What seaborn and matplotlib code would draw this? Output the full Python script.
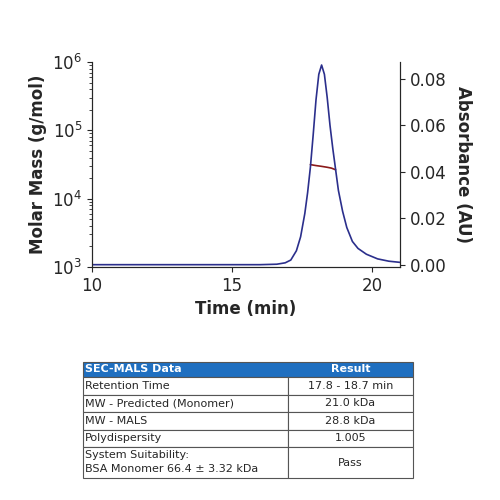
import matplotlib
matplotlib.use("Agg")
import matplotlib.pyplot as plt
import seaborn as sns
import pandas as pd
from matplotlib.patches import Rectangle

sns.set_style("ticks")
plt.rcParams['font.family'] = ['DejaVu Sans']

time_min = [10, 16.0, 16.6, 16.9, 17.1, 17.3, 17.45, 17.6, 17.7, 17.8, 17.9, 18.0, 18.1, 18.2, 18.3,
            18.4, 18.5, 18.6, 18.7, 18.8, 18.95, 19.1, 19.3, 19.5, 19.8, 20.2, 20.6, 21.0]
absorb = [0.0, 0.0, 0.0002, 0.0008, 0.002, 0.006, 0.012, 0.022, 0.031, 0.042, 0.056, 0.071, 0.082, 0.086, 0.082,
          0.072, 0.060, 0.050, 0.041, 0.032, 0.023, 0.016, 0.010, 0.007, 0.0045, 0.0025, 0.0015, 0.001]
mm_time = [17.8, 18.0, 18.2, 18.4, 18.55, 18.7]
mm_val = [3.15e4, 3.05e4, 2.97e4, 2.88e4, 2.8e4, 2.65e4]

abs_df = pd.DataFrame({"t": time_min, "a": absorb})
mm_df = pd.DataFrame({"t": mm_time, "m": mm_val})

fig = plt.figure(figsize=(5, 5), dpi=100)
ax = fig.add_axes([0.184, 0.466, 0.616, 0.41])
ax.set_yscale("log")
ax.set_ylim(1e3, 1e6)
ax.set_xlim(10, 21)
ax.set_xticks([10, 15, 20])
ax2 = ax.twinx()
sns.lineplot(data=abs_df, x="t", y="a", ax=ax2, color="#2b2f8c", lw=1.2)
sns.lineplot(data=mm_df, x="t", y="m", ax=ax, color="#8b1a1a", lw=1.2)
ax2.set_ylim(-0.001, 0.0873)
ax2.set_yticks([0, 0.02, 0.04, 0.06, 0.08])
ax2.set_yticklabels(["0.00", "0.02", "0.04", "0.06", "0.08"])
ax.set_xlabel("Time (min)", fontsize=12, fontweight="bold")
ax.set_ylabel("Molar Mass (g/mol)", fontsize=12, fontweight="bold")
ax2.set_ylabel("Absorbance (AU)", fontsize=12, fontweight="bold", rotation=270, labelpad=18)
ax.tick_params(labelsize=12)
ax2.tick_params(labelsize=12)
for a in (ax, ax2):
    a.spines["top"].set_visible(False)

# table
tax = fig.add_axes([0, 0, 1, 1], zorder=-1)
tax.set_xlim(0, 500); tax.set_ylim(500, 0); tax.axis("off")
rows = [("Retention Time", "17.8 - 18.7 min"),
        ("MW - Predicted (Monomer)", "21.0 kDa"),
        ("MW - MALS", "28.8 kDa"),
        ("Polydispersity", "1.005"),
        ("System Suitability:\nBSA Monomer 66.4 \u00b1 3.32 kDa", "Pass")]
x0, xm, x1 = 83, 288, 413
y = 362
tax.add_patch(Rectangle((x0, y), x1 - x0, 15, facecolor="#1f6fc0", edgecolor="#555555", lw=0.8))
tax.text(x0 + 2, y + 7.5, "SEC-MALS Data", color="white", fontweight="bold", fontsize=8, va="center")
tax.text((xm + x1) / 2, y + 7.5, "Result", color="white", fontweight="bold", fontsize=8, va="center", ha="center")
y += 15
for lab, val in rows:
    h = 31 if "\n" in lab else 17.5
    tax.add_patch(Rectangle((x0, y), xm - x0, h, facecolor="white", edgecolor="#555555", lw=0.8))
    tax.add_patch(Rectangle((xm, y), x1 - xm, h, facecolor="white", edgecolor="#555555", lw=0.8))
    tax.text(x0 + 2, y + h / 2, lab, fontsize=8, va="center", linespacing=1.5)
    tax.text((xm + x1) / 2, y + h / 2, val, fontsize=8, va="center", ha="center")
    y += h

fig.savefig("out.png", dpi=100)
